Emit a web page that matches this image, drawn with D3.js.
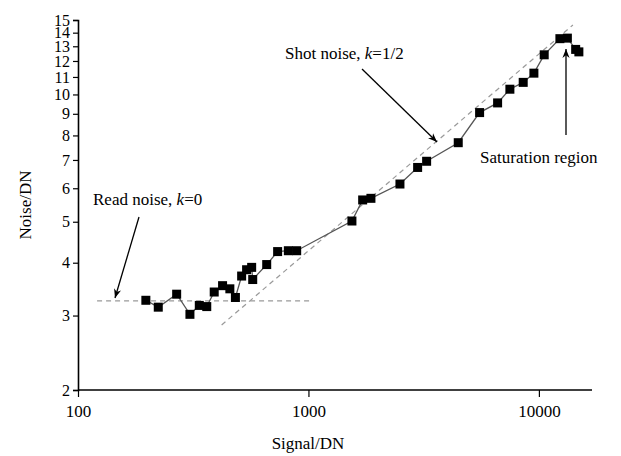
<!DOCTYPE html>
<html>
<head>
<meta charset="utf-8">
<script src="https://d3js.org/d3.v7.min.js"></script>
<style>
  body { margin: 0; background: #fff; }
  text { font-family: "Liberation Serif", "DejaVu Serif", serif; }
</style>
</head>
<body>
<script>
    const width = 621;
    const height = 456;

    // measured points (signal DN, noise DN)
    const signal = [197, 223, 268, 306, 336, 362, 390, 424, 456, 482, 513, 539, 567, 573, 659, 735, 818, 889,
        1544, 1719, 1867, 2495, 2977, 3257, 4467, 5530, 6620, 7484, 8549, 9513, 10545, 12335, 13292, 14440, 14910];
    const noise = [3.26, 3.14, 3.37, 3.02, 3.17, 3.15, 3.41, 3.53, 3.47, 3.31, 3.72, 3.85, 3.90, 3.65, 3.96, 4.25, 4.27, 4.27,
        5.02, 5.63, 5.68, 6.14, 6.72, 6.95, 7.69, 9.06, 9.55, 10.29, 10.68, 11.23, 12.41, 13.55, 13.59, 12.78, 12.61];

    // guide lines
    const readLine = [[121, 3.25], [1046, 3.25]];
    const shotLine = [[420, 2.85], [14050, 14.6]];

    const xMajor = [100, 1000, 10000];
    const xMinor = [200, 300, 400, 500, 600, 700, 800, 900, 2000, 3000, 4000, 5000, 6000, 7000, 8000, 9000];
    const yLabels = [2, 3, 4, 5, 6, 7, 8, 9, 10, 11, 12, 13, 14, 15];

    const x = d3.scaleLog().domain([100, 17000]).range([78, 592]);
    const y = d3.scaleLog().domain([2, 15]).range([390, 20]);

    const svg = d3.select("body").append("svg")
        .attr("width", width)
        .attr("height", height);

    // minor y ticks every 0.1
    const yMinor = d3.range(20, 151).map(d => d / 10).filter(d => Math.abs(d - Math.round(d)) > 1e-6);

    const gy = svg.append("g").attr("transform", "translate(78,0)");
    gy.call(d3.axisLeft(y).tickValues(yMinor).tickFormat("").tickSize(3.5));
    gy.call(d3.axisLeft(y).tickValues(yLabels).tickFormat(d3.format("d")).tickSize(5).tickPadding(3));
    gy.select(".domain").attr("stroke-width", 1.6);

    const gx = svg.append("g").attr("transform", "translate(0,390)");
    gx.call(d3.axisBottom(x).tickValues(xMinor).tickFormat("").tickSize(4));
    gx.call(d3.axisBottom(x).tickValues(xMajor).tickFormat(d3.format("d")).tickSize(7).tickPadding(8));
    gx.select(".domain").attr("d", "M78,0H592").attr("stroke-width", 1.6);

    svg.selectAll(".tick line").attr("stroke", "#000").attr("stroke-width", 1.2);
    gx.selectAll(".tick text").attr("font-size", 17).attr("fill", "#000")
        .style("font-family", "'Liberation Serif', serif");
    gy.selectAll(".tick text").attr("font-size", 16).attr("fill", "#000")
        .style("font-family", "'Liberation Serif', serif");

    // axis titles
    svg.append("text").attr("x", 308).attr("y", 449).attr("text-anchor", "middle")
        .attr("font-size", 17).text("Signal/DN");
    svg.append("text").attr("transform", "translate(31,205) rotate(-90)").attr("text-anchor", "middle")
        .attr("font-size", 17).text("Noise/DN");

    // guide lines
    const line = d3.line().x(d => x(d[0])).y(d => y(d[1]));
    [readLine, shotLine].forEach(l => {
        svg.append("path").attr("d", line(l)).attr("fill", "none")
            .attr("stroke", "#999").attr("stroke-width", 1.2).attr("stroke-dasharray", "5,4");
    });

    // data
    const pts = signal.map((s, i) => [s, noise[i]]);
    svg.append("path").attr("d", line(pts)).attr("fill", "none")
        .attr("stroke", "#555").attr("stroke-width", 1.3);

    svg.selectAll("rect.pt").data(pts).enter().append("rect")
        .attr("class", "pt")
        .attr("x", d => x(d[0]) - 4.5)
        .attr("y", d => y(d[1]) - 4.5)
        .attr("width", 9).attr("height", 9)
        .attr("fill", "#000");

    // annotations
    svg.append("defs").append("marker")
        .attr("id", "arr").attr("viewBox", "0 0 10 10").attr("refX", 10).attr("refY", 5)
        .attr("markerWidth", 9).attr("markerHeight", 9).attr("markerUnits", "userSpaceOnUse")
        .attr("orient", "auto")
        .append("path").attr("d", "M0,1L10,5L0,9L3,5Z").attr("fill", "#000");

    const arrows = [
        [[139, 217], [115, 298]],
        [[362, 69], [437, 142]],
        [[566, 135], [566, 49]]
    ];
    arrows.forEach(a => {
        svg.append("line").attr("x1", a[0][0]).attr("y1", a[0][1])
            .attr("x2", a[1][0]).attr("y2", a[1][1])
            .attr("stroke", "#000").attr("stroke-width", 1.3)
            .attr("marker-end", "url(#arr)");
    });

    const label = (tx, ty, parts) => {
        const t = svg.append("text").attr("x", tx).attr("y", ty).attr("font-size", 17);
        parts.forEach(p => t.append("tspan").attr("font-style", p[1] ? "italic" : "normal").text(p[0]));
    };
    label(93, 205, [["Read noise, ", false], ["k", true], ["=0", false]]);
    label(285, 59, [["Shot noise, ", false], ["k", true], ["=1/2", false]]);
    label(480, 163, [["Saturation region", false]]);
</script>
</body>
</html>
